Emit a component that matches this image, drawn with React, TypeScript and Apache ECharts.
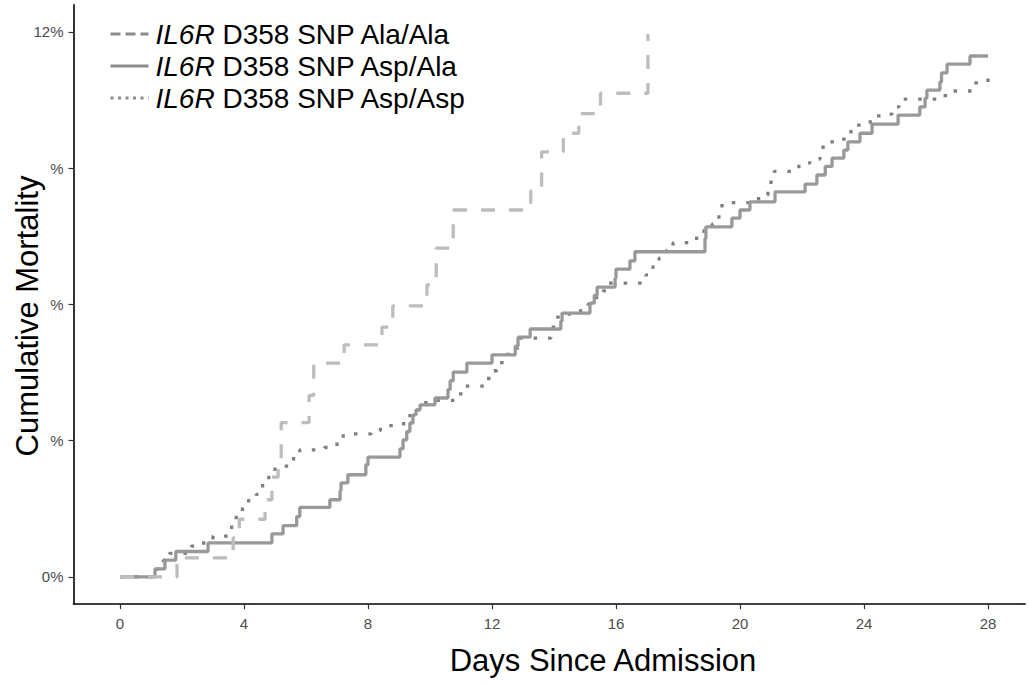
import React, { useEffect, useRef } from "react";
import * as echarts from "echarts";

const seriesNames = [
  "IL6R D358 SNP Ala/Ala",
  "IL6R D358 SNP Asp/Ala",
  "IL6R D358 SNP Asp/Asp",
];

const daysAlaAla = [0, 1.84, 3.65, 3.85, 4.68, 4.9, 5.1, 5.2, 6.1, 6.25, 7.23, 8.45, 8.8, 9.9, 10.2, 10.75, 13.25, 13.6, 14.3, 14.8, 15.5, 17.03];
const mortAlaAla = [0, 0.42, 0.86, 1.27, 1.7, 2.2, 2.53, 3.4, 4.0, 4.71, 5.11, 5.5, 5.97, 6.43, 7.24, 8.08, 8.5, 9.36, 9.77, 10.2, 10.65, 11.95];

const daysAspAla = [0, 1.13, 1.45, 1.8, 2.84, 4.9, 5.26, 5.7, 5.8, 6.77, 7.1, 7.13, 7.35, 7.93, 8.0, 9.03, 9.13, 9.25, 9.35, 9.45, 9.55, 9.68, 10.16, 10.58, 10.65, 10.75, 11.19, 12.0, 12.75, 12.84, 13.23, 14.22, 14.26, 15.16, 15.3, 15.39, 15.97, 16.0, 16.45, 16.61, 18.87, 18.9, 19.74, 20.0, 20.32, 21.13, 22.1, 22.48, 22.75, 22.97, 23.35, 23.48, 23.87, 24.26, 25.1, 25.8, 25.97, 26.03, 26.45, 26.5, 26.68, 27.42, 28.0];
const mortAspAla = [0, 0.18, 0.37, 0.56, 0.75, 0.95, 1.13, 1.33, 1.53, 1.7, 1.9, 2.07, 2.25, 2.47, 2.64, 2.82, 3.02, 3.2, 3.39, 3.57, 3.68, 3.79, 3.94, 4.13, 4.32, 4.51, 4.71, 4.89, 5.08, 5.28, 5.46, 5.63, 5.81, 6.03, 6.2, 6.38, 6.58, 6.78, 6.96, 7.16, 7.45, 7.71, 7.9, 8.08, 8.26, 8.48, 8.65, 8.85, 9.04, 9.22, 9.4, 9.58, 9.77, 9.97, 10.17, 10.35, 10.54, 10.72, 10.9, 11.1, 11.29, 11.47, 11.47];

const daysAspAsp = [0, 1.2, 1.4, 1.6, 2.3, 2.7, 3.0, 3.6, 3.75, 3.95, 4.15, 4.4, 4.6, 4.8, 5.0, 5.6, 5.8, 6.6, 7.0, 7.2, 8.1, 8.4, 9.15, 9.4, 9.65, 10.1, 10.87, 11.06, 11.74, 12.0, 12.16, 12.39, 12.68, 12.84, 13.9, 14.06, 14.45, 14.8, 15.1, 15.35, 15.58, 15.77, 16.97, 17.19, 17.39, 17.6, 17.84, 18.6, 18.84, 19.1, 19.32, 19.42, 20.6, 20.9, 21.0, 21.1, 21.9, 22.25, 22.58, 22.68, 23.06, 23.58, 23.97, 24.2, 24.65, 24.9, 25.13, 26.45, 26.8, 27.5, 28.0];
const mortAspAsp = [0, 0.18, 0.37, 0.52, 0.68, 0.79, 0.9, 1.17, 1.4, 1.56, 1.75, 1.82, 2.09, 2.26, 2.44, 2.71, 2.8, 2.85, 3.03, 3.15, 3.22, 3.33, 3.55, 3.68, 3.84, 3.89, 4.03, 4.2, 4.37, 4.54, 4.72, 4.9, 5.04, 5.26, 5.5, 5.72, 5.79, 5.86, 6.01, 6.15, 6.3, 6.47, 6.65, 6.83, 7.02, 7.18, 7.36, 7.53, 7.64, 7.77, 7.97, 8.24, 8.41, 8.54, 8.8, 8.93, 9.11, 9.2, 9.33, 9.58, 9.64, 9.95, 9.99, 10.15, 10.19, 10.35, 10.52, 10.6, 10.7, 10.88, 11.05];

const xTicks = [0, 4, 8, 12, 16, 20, 24, 28];
const yTicks = [0, 3, 6, 9, 12];
const yTickLabels = ["0%", "%", "%", "%", "12%"];

const xTitle = "Days Since Admission";
const yTitle = "Cumulative Mortality";

const FONT = "'Liberation Sans', Arial, Helvetica, sans-serif";

const zip = (xs: number[], ys: number[]) => xs.map((x, i) => [x, ys[i]]);

export default function App() {
  const ref = useRef<HTMLDivElement>(null);
  useEffect(() => {
    if (!ref.current) return;
    const chart = echarts.init(ref.current, undefined, { renderer: "svg" });
    const lineColors = ["#bdbdbd", "#999999", "#7f7f7f"];
    const lineTypes: any[] = [[14, 14], "solid", [3.5, 11]];
    const legendTypes: any[] = [[10, 5], "solid", [3, 4.5]];
    const dataSets = [
      zip(daysAlaAla, mortAlaAla),
      zip(daysAspAla, mortAspAla),
      zip(daysAspAsp, mortAspAsp),
    ];
    chart.setOption({
      animation: false,
      backgroundColor: "#ffffff",
      grid: { left: 73.5, top: 4.7, right: 3.8, bottom: 82.8, containLabel: false },
      legend: {
        orient: "vertical",
        left: 104,
        top: 15,
        itemWidth: 38,
        itemHeight: 14,
        itemGap: 4,
        data: seriesNames.map((n, i) => ({
          name: n,
          lineStyle: { color: "#8c8c8c", width: 3, type: legendTypes[i] },
          itemStyle: { color: "#8c8c8c", opacity: 0 },
        })),
        formatter: (name: string) => name.replace("IL6R ", "{i|IL6R} "),
        textStyle: {
          fontSize: 28,
          fontFamily: FONT,
          color: "#000",
          padding: [0, 0, 0, 2],
          rich: {
            i: { fontSize: 28, fontFamily: FONT, fontStyle: "italic", color: "#000" },
          },
        },
      },
      xAxis: {
        type: "value",
        min: -1.5,
        max: 29.2,
        axisLine: { show: true, onZero: false, lineStyle: { color: "#000", width: 1.6 } },
        axisTick: { show: true, length: 5, customValues: xTicks, lineStyle: { color: "#333", width: 1.2 } },
        axisLabel: {
          customValues: xTicks,
          margin: 12,
          fontSize: 15,
          fontFamily: FONT,
          color: "#4d4d4d",
        },
        splitLine: { show: false },
      },
      yAxis: {
        type: "value",
        min: -0.6,
        max: 12.6,
        axisLine: { show: true, onZero: false, lineStyle: { color: "#000", width: 1.6 } },
        axisTick: { show: true, length: 5, customValues: yTicks, lineStyle: { color: "#333", width: 1.2 } },
        axisLabel: {
          customValues: yTicks,
          margin: 10,
          fontSize: 15,
          fontFamily: FONT,
          color: "#4d4d4d",
          formatter: (v: number) => {
            const idx = yTicks.indexOf(Math.round(v));
            return idx >= 0 ? yTickLabels[idx] : "";
          },
        },
        splitLine: { show: false },
      },
      series: seriesNames.map((n, i) => ({
        name: n,
        type: "line",
        step: "end",
        symbol: "none",
        data: dataSets[i],
        lineStyle: { color: lineColors[i], width: 3.3, type: lineTypes[i], cap: "butt" },
        itemStyle: { color: lineColors[i] },
        z: 3 - i,
      })),
      graphic: [
        {
          type: "text",
          x: 603,
          y: 660,
          style: {
            text: xTitle,
            fontSize: 31,
            fontFamily: FONT,
            fill: "#000",
            textAlign: "center",
            textVerticalAlign: "middle",
          },
        },
        {
          type: "text",
          x: 27,
          y: 316,
          rotation: Math.PI / 2,
          style: {
            text: yTitle,
            fontSize: 31,
            fontFamily: FONT,
            fill: "#000",
            textAlign: "center",
            textVerticalAlign: "middle",
          },
        },
      ],
    });
    return () => chart.dispose();
  }, []);
  return (
    <div
      ref={ref}
      style={{ position: "fixed", left: 0, top: 0, width: 1029, height: 687, background: "#fff" }}
    />
  );
}
